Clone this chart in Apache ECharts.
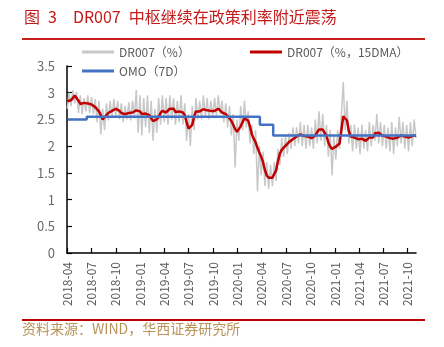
<!DOCTYPE html>
<html>
<head>
<meta charset="utf-8">
<script src="https://cdn.jsdelivr.net/npm/echarts@6/dist/echarts.min.js"></script>
<style>
html,body{margin:0;padding:0;background:#fff;}
#c{width:444px;height:347px;}
</style>
</head>
<body>
<div id="c"></div>
<script>
const titleText = '图\u20023\u3000DR007\u2002中枢继续在政策利率附近震荡';
const sourceText = '资料来源：WIND，华西证券研究所';
const seriesNames = ['DR007（%）', 'DR007（%，15DMA）', 'OMO（7D）'];
const tickLabels = ['2018-04','2018-07','2018-10','2019-01','2019-04','2019-07','2019-10','2020-01','2020-04','2020-07','2020-10','2021-01','2021-04','2021-07','2021-10'];
const axisStart = '2018-04-01';
const axisEnd = '2021-11-01';

const dates = [
'2018-04-02','2018-04-09','2018-04-16','2018-04-23','2018-04-30','2018-05-07','2018-05-14','2018-05-21','2018-05-28','2018-06-04','2018-06-11','2018-06-18','2018-06-25',
'2018-07-02','2018-07-09','2018-07-16','2018-07-23','2018-07-30','2018-08-06','2018-08-13','2018-08-20','2018-08-27','2018-09-03','2018-09-10','2018-09-17','2018-09-24',
'2018-10-01','2018-10-08','2018-10-15','2018-10-22','2018-10-29','2018-11-05','2018-11-12','2018-11-19','2018-11-26','2018-12-03','2018-12-10','2018-12-17','2018-12-24',
'2018-12-31','2019-01-07','2019-01-14','2019-01-21','2019-01-28','2019-02-04','2019-02-11','2019-02-18','2019-02-25','2019-03-04','2019-03-11','2019-03-18','2019-03-25',
'2019-04-01','2019-04-08','2019-04-15','2019-04-22','2019-04-29','2019-05-06','2019-05-13','2019-05-20','2019-05-27','2019-06-03','2019-06-10','2019-06-17','2019-06-24',
'2019-07-01','2019-07-08','2019-07-15','2019-07-22','2019-07-29','2019-08-05','2019-08-12','2019-08-19','2019-08-26','2019-09-02','2019-09-09','2019-09-16','2019-09-23',
'2019-09-30','2019-10-07','2019-10-14','2019-10-21','2019-10-28','2019-11-04','2019-11-11','2019-11-18','2019-11-25','2019-12-02','2019-12-09','2019-12-16','2019-12-23',
'2019-12-30','2020-01-06','2020-01-13','2020-01-20','2020-01-27','2020-02-03','2020-02-10','2020-02-17','2020-02-24','2020-03-02','2020-03-09','2020-03-16','2020-03-23',
'2020-03-30','2020-04-06','2020-04-13','2020-04-20','2020-04-27','2020-05-04','2020-05-11','2020-05-18','2020-05-25','2020-06-01','2020-06-08','2020-06-15','2020-06-22',
'2020-06-29','2020-07-06','2020-07-13','2020-07-20','2020-07-27','2020-08-03','2020-08-10','2020-08-17','2020-08-24','2020-08-31','2020-09-07','2020-09-14','2020-09-21',
'2020-09-28','2020-10-05','2020-10-12','2020-10-19','2020-10-26','2020-11-02','2020-11-09','2020-11-16','2020-11-23','2020-11-30','2020-12-07','2020-12-14','2020-12-21',
'2020-12-28','2021-01-04','2021-01-11','2021-01-18','2021-01-25','2021-02-01','2021-02-08','2021-02-15','2021-02-22','2021-03-01','2021-03-08','2021-03-15','2021-03-22',
'2021-03-29','2021-04-05','2021-04-12','2021-04-19','2021-04-26','2021-05-03','2021-05-10','2021-05-17','2021-05-24','2021-05-31','2021-06-07','2021-06-14','2021-06-21',
'2021-06-28','2021-07-05','2021-07-12','2021-07-19','2021-07-26','2021-08-02','2021-08-09','2021-08-16','2021-08-23','2021-08-30','2021-09-06','2021-09-13','2021-09-20',
'2021-09-27','2021-10-04','2021-10-11','2021-10-18','2021-10-25','2021-11-01'
];

const dr007 = [
2.70,3.00,2.75,3.05,2.80,3.02,2.62,2.95,2.60,2.90,2.65,2.95,2.62,
2.92,2.60,2.88,2.45,2.85,2.22,2.70,2.30,2.80,2.48,2.85,2.55,2.88,
2.55,2.85,2.50,2.80,2.45,2.75,2.50,2.82,2.48,2.85,2.52,3.05,2.25,
2.95,2.20,2.90,2.35,2.95,2.25,2.85,2.10,2.70,2.25,2.90,2.40,2.95,
2.45,2.90,2.40,2.95,2.50,2.90,2.40,2.85,2.45,2.95,2.40,2.80,2.10,
2.60,2.00,2.75,2.30,2.90,2.50,2.85,2.50,2.95,2.55,2.90,2.50,2.85,
2.55,2.90,2.55,2.95,2.60,2.85,2.45,2.80,2.35,2.75,2.20,2.60,1.60,
2.50,2.10,2.75,2.30,2.85,2.35,2.65,2.05,2.40,1.85,2.30,1.15,2.00,
1.45,1.90,1.25,1.70,1.20,1.65,1.25,1.70,1.35,1.95,1.65,2.15,1.80,
2.20,1.85,2.25,1.95,2.35,2.00,2.35,2.05,2.45,2.00,2.40,1.95,2.40,
2.00,2.35,1.95,2.50,2.05,2.65,2.10,2.60,2.00,2.40,1.80,2.30,1.45,
2.20,1.75,2.30,1.95,2.60,3.20,2.30,2.85,2.05,2.40,1.90,2.40,1.95,
2.35,1.85,2.40,1.95,2.30,1.90,2.45,2.00,2.40,2.10,2.60,2.05,2.45,
2.00,2.40,1.95,2.35,1.90,2.45,1.85,2.35,2.00,2.55,2.05,2.45,1.95,
2.40,1.90,2.45,2.00,2.50,2.15
];

const dr007ma15 = [
2.84,2.83,2.86,2.90,2.95,2.94,2.85,2.79,2.80,2.81,2.79,2.80,2.79,
2.78,2.76,2.73,2.70,2.65,2.58,2.50,2.50,2.58,2.62,2.64,2.66,2.68,
2.70,2.68,2.66,2.62,2.60,2.60,2.61,2.62,2.63,2.63,2.65,2.67,2.68,
2.65,2.60,2.59,2.61,2.62,2.58,2.52,2.47,2.47,2.50,2.55,2.62,2.66,
2.65,2.63,2.64,2.70,2.73,2.70,2.64,2.62,2.65,2.66,2.63,2.58,2.45,
2.33,2.30,2.40,2.55,2.65,2.66,2.65,2.66,2.69,2.68,2.67,2.68,2.66,
2.65,2.66,2.68,2.70,2.68,2.63,2.62,2.60,2.56,2.52,2.47,2.40,2.32,
2.27,2.30,2.37,2.45,2.52,2.53,2.48,2.36,2.22,2.14,2.07,1.97,1.88,
1.80,1.70,1.55,1.45,1.41,1.41,1.41,1.43,1.55,1.72,1.86,1.93,1.97,
2.00,2.04,2.08,2.10,2.13,2.15,2.18,2.19,2.22,2.22,2.19,2.17,2.18,
2.16,2.15,2.18,2.20,2.26,2.31,2.34,2.31,2.25,2.20,2.07,1.99,1.95,
1.96,1.99,2.00,2.05,2.30,2.56,2.57,2.48,2.28,2.18,2.17,2.16,2.16,
2.13,2.12,2.14,2.14,2.10,2.11,2.16,2.17,2.16,2.24,2.26,2.25,2.23,
2.20,2.18,2.18,2.17,2.15,2.14,2.14,2.13,2.16,2.19,2.20,2.21,2.18,
2.16,2.16,2.19,2.19,2.18,2.20
];

const omoDates = ['2018-04-02','2018-06-14','2020-03-25','2020-05-14','2021-11-01'];
const omoValues = [2.50, 2.55, 2.40, 2.20, 2.20];

const FONT = 'Noto Sans CJK SC';
const ts = s => Date.parse(s + 'T00:00:00Z');
const pairs = (xs, ys) => xs.map((d, i) => [ts(d), ys[i]]);
const tickTs = tickLabels.map(t => ts(t + '-01'));

const chart = echarts.init(document.getElementById('c'), null, {renderer: 'canvas'});
const legendBase = {
  padding: 0, icon: 'rect', itemWidth: 32, itemHeight: 3,
  selectedMode: false,
  textStyle: {fontFamily: FONT, fontSize: 12, color: '#595959'}
};
chart.setOption({
  animation: false,
  backgroundColor: '#ffffff',
  title: {
    text: titleText, left: 24, top: 9, padding: 0,
    textStyle: {fontFamily: FONT, fontSize: 16, fontWeight: 'normal', color: '#C41A1A'}
  },
  legend: [
    Object.assign({}, legendBase, {data: [seriesNames[0]], left: 82, top: 46}),
    Object.assign({}, legendBase, {data: [seriesNames[1]], left: 250, top: 46}),
    Object.assign({}, legendBase, {data: [seriesNames[2]], left: 82, top: 65})
  ],
  graphic: [
    {type: 'rect', shape: {x: 22, y: 38, width: 403, height: 2}, style: {fill: '#C81E1E'}, silent: true},
    {type: 'rect', shape: {x: 22, y: 319, width: 403, height: 2}, style: {fill: '#C00000'}, silent: true},
    {type: 'text', left: 22, top: 322, style: {text: sourceText, fontFamily: FONT, fontSize: 14, fill: '#B8935A'}, silent: true}
  ],
  grid: {left: 67, right: 28, top: 66, bottom: 94, containLabel: false},
  xAxis: {
    type: 'value',
    min: ts(axisStart),
    max: ts(axisEnd),
    axisLine: {show: true, onZero: false, lineStyle: {color: '#000', width: 1.5}},
    axisTick: {show: true, inside: true, length: 5, lineStyle: {color: '#000', width: 1.2},
      customValues: tickTs},
    axisLabel: {
      customValues: tickTs,
      rotate: 90, margin: 9, fontFamily: FONT, fontSize: 12, color: '#595959',
      formatter: function (v) {
        const i = tickTs.indexOf(v);
        return i >= 0 ? tickLabels[i] : '';
      }
    },
    splitLine: {show: false}
  },
  yAxis: {
    type: 'value', min: 0, max: 3.5, interval: 0.5,
    axisLine: {show: true, lineStyle: {color: '#000', width: 1.5}},
    axisTick: {show: true, inside: true, length: 5, lineStyle: {color: '#000', width: 1.2}},
    axisLabel: {margin: 12, fontFamily: FONT, fontSize: 13, color: '#6b6b6b'},
    splitLine: {show: false}
  },
  series: [
    {name: seriesNames[0], type: 'line', data: pairs(dates, dr007), symbol: 'none',
      color: '#C8C8C8', lineStyle: {color: '#C8C8C8', width: 1.5}, z: 1},
    {name: seriesNames[1], type: 'line', data: pairs(dates, dr007ma15), symbol: 'none',
      color: '#C00000', lineStyle: {color: '#C00000', width: 2.5}, z: 2},
    {name: seriesNames[2], type: 'line', step: 'end', data: pairs(omoDates, omoValues), symbol: 'none',
      color: '#4472C4', lineStyle: {color: '#4472C4', width: 2.5}, z: 3}
  ]
});
</script>
</body>
</html>
